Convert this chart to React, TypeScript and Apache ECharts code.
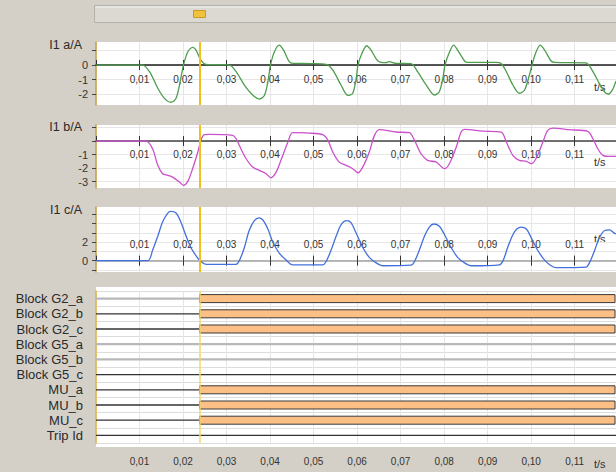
import React, { useEffect, useRef } from 'react';
import * as echarts from 'echarts';

const FONT = '"Liberation Sans", Arial, sans-serif';

const timeEnd = 0.1195;
const cursorTime = 0.0238;

// [t in s, current in A]
const phaseA: number[][] = [
  [0, 0], [0.0107, 0], [0.0123, -0.46], [0.0142, -1.6], [0.0157, -2.3], [0.0172, -2.57], [0.0184, -2.3],
  [0.0195, -0.9], [0.0201, 0], [0.0211, 0.92], [0.0222, 1.22], [0.023, 1.03], [0.0241, 0.34], [0.0253, 0.05],
  [0.0307, 0], [0.0322, -0.46], [0.0341, -1.38], [0.036, -2.07], [0.0375, -2.35], [0.0387, -2.1], [0.0395, -1.15],
  [0.0401, 0], [0.041, 0.92], [0.0421, 1.38], [0.0431, 1.03], [0.0444, 0.23], [0.0452, 0.11], [0.0498, 0.1],
  [0.0529, 0.05], [0.0544, -0.34], [0.0563, -1.38], [0.0579, -2.1], [0.059, -1.95], [0.0598, -0.92], [0.0602, 0],
  [0.0611, 0.8], [0.0622, 1.33], [0.0632, 1.03], [0.0648, 0.28], [0.0667, 0.16], [0.0674, 0.23], [0.069, 0.11],
  [0.0724, 0.1], [0.0739, -0.46], [0.0759, -1.38], [0.0778, -2.07], [0.0789, -1.84], [0.0797, -0.92], [0.0802, 0],
  [0.0811, 0.8], [0.0822, 1.38], [0.0831, 1.03], [0.0847, 0.28], [0.0854, 0.18], [0.092, 0.18], [0.0931, 0.1],
  [0.0943, -0.46], [0.0958, -1.38], [0.0973, -1.95], [0.0985, -1.72], [0.0996, -0.69], [0.1002, 0], [0.101, 0.8],
  [0.1021, 1.38], [0.1031, 1.03], [0.1046, 0.28], [0.1054, 0.18], [0.1126, 0.15], [0.1142, -0.46], [0.1157, -1.3],
  [0.117, -1.9], [0.1178, -2.0], [0.1187, -1.7], [0.1195, -1.1],
];

const phaseB: number[][] = [
  [0, 0], [0.0115, 0], [0.013, -0.57], [0.0142, -1.8], [0.0153, -2.42], [0.0165, -2.54], [0.0176, -2.67],
  [0.0192, -3.04], [0.0201, -3.28], [0.0211, -2.99], [0.0222, -2.05], [0.0234, -0.81], [0.0241, 0.05],
  [0.0249, 0.47], [0.026, 0.49], [0.0314, 0.42], [0.0322, 0.17], [0.0333, -0.57], [0.0345, -1.31], [0.036, -1.93],
  [0.0375, -2.17], [0.0391, -2.42], [0.0402, -2.72], [0.0414, -2.3], [0.0425, -1.43], [0.0441, -0.07],
  [0.0452, 0.62], [0.049, 0.59], [0.0521, 0.47], [0.0533, 0.05], [0.0544, -0.81], [0.0559, -1.56], [0.0575, -1.8],
  [0.059, -2.05], [0.0602, -2.35], [0.0613, -1.93], [0.0628, -0.81], [0.064, 0.42], [0.0651, 0.84], [0.069, 0.67],
  [0.072, 0.62], [0.0732, 0.05], [0.0747, -0.94], [0.0762, -1.43], [0.0782, -1.56], [0.0801, -2.05],
  [0.0812, -1.68], [0.0828, -0.44], [0.0839, 0.67], [0.0847, 0.86], [0.0889, 0.74], [0.0931, 0.67],
  [0.0943, -0.07], [0.0958, -1.06], [0.0973, -1.43], [0.0989, -1.5], [0.1, -1.68], [0.1011, -1.31],
  [0.1027, -0.07], [0.1038, 0.79], [0.105, 0.96], [0.1088, 0.84], [0.113, 0.72], [0.1142, 0.17], [0.1153, -0.57],
  [0.1165, -1.06], [0.118, -1.14], [0.1195, -1.14],
];

const phaseC: number[][] = [
  [0, 0], [0.0119, 0], [0.013, 1.12], [0.0142, 2.64], [0.0153, 4.15], [0.0165, 5.12], [0.0172, 5.3],
  [0.0184, 5.12], [0.0195, 4.15], [0.0207, 2.64], [0.0218, 1.42], [0.023, 0.52], [0.0241, -0.09],
  [0.0253, -0.39], [0.0322, -0.39], [0.033, 0.06], [0.0341, 1.42], [0.0352, 3.24], [0.0364, 4.3], [0.0374, 4.6],
  [0.0383, 4.4], [0.0395, 3.4], [0.0406, 2.03], [0.0421, 0.82], [0.0437, 0.06], [0.0452, -0.45], [0.0521, -0.45],
  [0.0529, -0.09], [0.054, 1.12], [0.0552, 2.64], [0.0563, 3.85], [0.0576, 4.3], [0.0586, 4.1], [0.0598, 2.94],
  [0.0613, 1.42], [0.0628, 0.36], [0.0644, -0.24], [0.0659, -0.55], [0.0724, -0.48], [0.0732, -0.09],
  [0.0743, 1.12], [0.0755, 2.64], [0.0766, 3.6], [0.0776, 3.94], [0.0789, 3.7], [0.0801, 2.79], [0.0816, 1.42],
  [0.0831, 0.36], [0.0847, -0.24], [0.0862, -0.55], [0.0927, -0.45], [0.0936, 0.06], [0.0946, 1.42],
  [0.0958, 2.79], [0.0967, 3.4], [0.0977, 3.6], [0.0989, 3.4], [0.1, 2.48], [0.1015, 1.12], [0.1031, 0.06],
  [0.1046, -0.55], [0.1057, -0.76], [0.1126, -0.7], [0.1134, -0.24], [0.1146, 1.12], [0.1157, 2.48],
  [0.1169, 3.24], [0.118, 3.3], [0.1192, 2.94], [0.1195, 2.9],
];

const ticksA = [1, 0, -1, -2];
const labelsA = [0, -1, -2];
const ticksB = [1, 0, -1, -2, -3];
const labelsB = [-1, -2, -3];
const ticksC = [-1, 0, 1, 2, 3, 4, 5];
const labelsC = [0, 2];

const signalNames = [
  'Block G2_a', 'Block G2_b', 'Block G2_c', 'Block G5_a', 'Block G5_b',
  'Block G5_c', 'MU_a', 'MU_b', 'MU_c', 'Trip Id',
];
// time the signal picks up, null = stays off
const signalOnAt: (number | null)[] = [
  0.0238, 0.0238, 0.0238, null, null, null, 0.0238, 0.0238, 0.0238, null,
];
const signalTrace = ['light', 'dark', 'dark', 'light', 'light', 'dark', 'dark', 'dark', 'dark', 'dark'];

const panels = [
  { title: 'I1 a/A', data: phaseA, ticks: ticksA, labels: labelsA, color: '#4e9e4e', zero: '#1c1c1c',
    top: 42, height: 63, min: -2.76, max: 1.59, inside: false, margin: 9, titleTop: 38, unitY: 87 },
  { title: 'I1 b/A', data: phaseB, ticks: ticksB, labels: labelsB, color: '#cc4fcc', zero: '#444444',
    top: 125, height: 63, min: -3.48, max: 1.19, inside: false, margin: 8, titleTop: 120, unitY: 162 },
  { title: 'I1 c/A', data: phaseC, ticks: ticksC, labels: labelsC, color: '#4470dc', zero: '#a0a0a0',
    top: 207, height: 65, min: -1.22, max: 5.77, inside: true, margin: 11, titleTop: 203, unitY: 239 },
];

const timeLabel = (v: number) => v.toFixed(2).replace('.', ',');

const cursorLine = (color: string, width: number) => ({
  silent: true,
  precision: 6,
  symbol: ['none', 'none'],
  label: { show: false },
  lineStyle: { color, width, type: 'solid' },
  data: [{ xAxis: cursorTime }],
});

const App: React.FC = () => {
  const chartRef = useRef<HTMLDivElement | null>(null);

  useEffect(() => {
    const chart = echarts.init(chartRef.current!, undefined, { renderer: 'svg' });

    const grid: any[] = [];
    const xAxis: any[] = [];
    const yAxis: any[] = [];
    const series: any[] = [];
    const title: any[] = [];

    panels.forEach((p, i) => {
      // lift the time axis from the bottom edge up to the zero line
      const zeroLift = -((0 - p.min) / (p.max - p.min)) * p.height;
      grid.push({ left: 96, right: 0, top: p.top, height: p.height, show: true, backgroundColor: '#ffffff', borderWidth: 0 });
      xAxis.push({
        type: 'value', gridIndex: i, min: 0, max: timeEnd, interval: 0.01,
        position: 'bottom', offset: zeroLift,
        axisLine: { onZero: false, lineStyle: { color: p.zero, width: 1.5 } },
        axisTick: { length: 5, lineStyle: { color: '#333333', width: 1 } },
        axisLabel: {
          inside: p.inside, margin: p.margin, formatter: timeLabel, fontSize: 10, color: '#333333',
          fontFamily: FONT, showMinLabel: false, showMaxLabel: false,
        },
        splitLine: { show: true, lineStyle: { color: '#e6e6e6', width: 1 } },
      });
      // same axis again, ticks pointing up, so they cross the zero line
      xAxis.push({
        type: 'value', gridIndex: i, min: 0, max: timeEnd, interval: 0.01,
        position: 'bottom', offset: zeroLift,
        axisLine: { show: false, onZero: false },
        axisTick: { inside: true, length: 5, lineStyle: { color: '#333333', width: 1 } },
        axisLabel: { show: false },
        splitLine: { show: false },
      });
      yAxis.push({
        type: 'value', gridIndex: i, min: p.min, max: p.max,
        axisLine: { show: true, onZero: false, lineStyle: { color: '#c8a040', width: 1.5 } },
        axisTick: { show: true, length: 4, customValues: p.ticks, lineStyle: { color: '#444444' } },
        axisLabel: { customValues: p.labels, fontSize: 11, color: '#333333', margin: 8, fontFamily: FONT },
        splitLine: { show: true, lineStyle: { color: '#e6e6e6', width: 1 } },
      });
      series.push({
        type: 'line', xAxisIndex: i * 2, yAxisIndex: i, data: p.data, smooth: 0.3, symbol: 'none',
        lineStyle: { color: p.color, width: 1.3 }, itemStyle: { color: p.color },
        markLine: cursorLine('#f2c01e', 2),
      });
      title.push({
        text: p.title, right: 534, top: p.titleTop, padding: 0,
        textStyle: { fontSize: 12.5, fontWeight: 'normal', color: '#2a2a2a', fontFamily: FONT },
      });
    });

    // binary signals
    grid.push({ left: 96, right: 0, top: 291, height: 152 });
    xAxis.push({
      type: 'value', gridIndex: 3, min: 0, max: timeEnd, interval: 0.01, position: 'bottom', offset: 4,
      axisLine: { onZero: false, lineStyle: { color: '#9a9a9a', width: 1 } },
      axisTick: { inside: true, length: 5, lineStyle: { color: '#333333' } },
      axisLabel: {
        margin: 9, formatter: timeLabel, fontSize: 10, color: '#333333', fontFamily: FONT,
        showMinLabel: false, showMaxLabel: false,
      },
      splitLine: { show: true, lineStyle: { color: '#e6e6e6', width: 1 } },
    });
    yAxis.push({
      type: 'category', gridIndex: 3, data: signalNames, inverse: true,
      axisLine: { show: true, lineStyle: { color: '#e0b440', width: 1.5 } },
      axisTick: { show: false },
      axisLabel: { interval: 0, fontSize: 13, color: '#2a2a2a', margin: 13, fontFamily: FONT },
      splitLine: { show: true, interval: 0, lineStyle: { color: '#dcdcdc', width: 1 } },
    });
    series.push({
      type: 'custom', xAxisIndex: 6, yAxisIndex: 3,
      encode: { y: 0, x: [1, 2] },
      data: signalNames.map((_, i) => [i, signalOnAt[i] ?? timeEnd, timeEnd, signalTrace[i] === 'dark' ? 1 : 0]),
      renderItem: (_params: any, api: any) => {
        const row = api.value(0);
        const onAt = api.value(1);
        const end = api.value(2);
        const dark = api.value(3) === 1;
        const a = api.coord([0, row]);
        const b = api.coord([onAt, row]);
        const c = api.coord([end, row]);
        const children: any[] = [{
          type: 'line',
          shape: { x1: a[0], y1: a[1], x2: b[0], y2: b[1] },
          style: { stroke: dark ? '#333333' : '#b8b8b8', lineWidth: dark ? 1.3 : 2.2 },
        }];
        if (onAt < end) {
          children.push({
            type: 'rect',
            shape: { x: b[0], y: b[1] - 4, width: c[0] - b[0] - 1, height: 8 },
            style: { fill: '#fcbf86', stroke: '#3a3a3a', lineWidth: 1 },
          });
        }
        return { type: 'group', children };
      },
    });
    series.push({
      type: 'line', xAxisIndex: 6, yAxisIndex: 3, data: [],
      markLine: cursorLine('#f5d66a', 1.5),
    });

    const unitText = (y: number) => ({
      type: 'text', x: 594, y,
      style: { text: 't/s', fontSize: 11, fill: '#333333', fontFamily: FONT, textVerticalAlign: 'middle' },
    });

    chart.setOption({
      animation: false,
      backgroundColor: '#d4d0c8',
      title,
      grid,
      xAxis,
      yAxis,
      series,
      graphic: [
        { type: 'rect', z: -10, shape: { x: 96, y: 287, width: 520, height: 160 }, style: { fill: '#ffffff' } },
        { type: 'rect', shape: { x: 94.5, y: 5.5, width: 522, height: 17 }, style: { fill: '#dcd9d3', stroke: '#b4b1ab', lineWidth: 1 } },
        { type: 'line', shape: { x1: 95.5, y1: 7, x2: 616, y2: 7 }, style: { stroke: '#f4f3f0', lineWidth: 1 } },
        { type: 'rect', shape: { x: 193.5, y: 10.5, width: 12, height: 7 }, style: { fill: '#f2c23a', stroke: '#c89a28', lineWidth: 1 } },
        ...panels.map((p) => unitText(p.unitY)),
        unitText(464),
      ],
    });

    return () => {
      chart.dispose();
    };
  }, []);

  return (
    <div
      ref={chartRef}
      style={{ position: 'fixed', left: 0, top: 0, width: '616px', height: '472px' }}
    />
  );
};

export default App;
